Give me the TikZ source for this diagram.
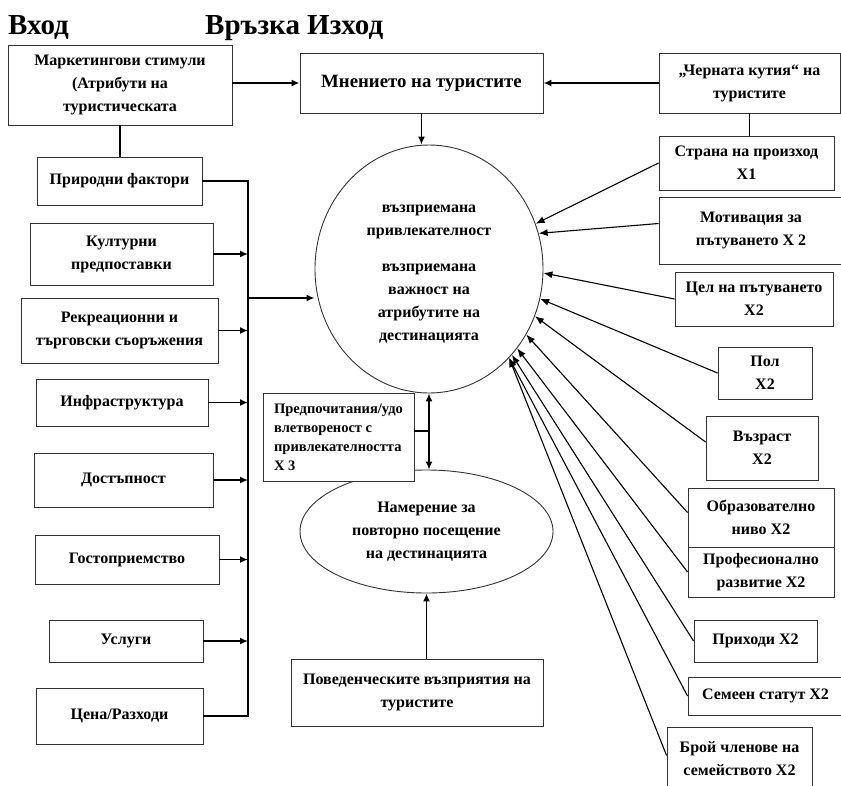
\documentclass[tikz,border=0pt]{standalone}
\usepackage{fontspec}
\setmainfont{Liberation Serif}
\usetikzlibrary{arrows.meta,shapes.geometric}
\newcommand\bodyfnt{\fontsize{16}{23}\selectfont\bfseries}
\newcommand\preffnt{\fontsize{14.5}{19}\selectfont\bfseries}
\begin{document}
\begin{tikzpicture}[x=1pt,y=-1pt,
  box/.style={draw=black!80, line width=0.9pt, fill=white, align=center, inner sep=0pt, font=\bodyfnt},
  oval/.style={ellipse, draw=black!80, line width=0.9pt, fill=white, align=center, inner sep=0pt, font=\bodyfnt},
  conn/.style={line width=1.8pt},
  arr/.style={conn, -{Latex[length=8pt,width=7pt]}},
  thinarr/.style={line width=1.1pt, -{Latex[length=9pt,width=7pt]}},
  dblarr/.style={line width=1.5pt, {Latex[length=8pt,width=7pt]}-{Latex[length=8pt,width=7pt]}},
  ttl/.style={anchor=base west, inner sep=0pt, font=\fontsize{29}{32}\selectfont\bfseries}]
\useasboundingbox (0,0) rectangle (841,785);
% titles
\node[ttl] (tin) at (8,34) {Вход};
\node[ttl] (tout) at (205,34) {Връзка Изход};
% central shapes
\node[oval, minimum width=228pt, minimum height=248pt] (circ) at (429,269) {};
\node[align=center, inner sep=0pt, font=\bodyfnt] (circtxt) at (429,274) {възприемана\\привлекателност\\[13pt]възприемана\\важност на\\атрибутите на\\дестинацията};
\node[oval, minimum width=253pt, minimum height=123pt] (ell2) at (426.5,531.5) {Намерение за\\повторно посещение\\на дестинацията};
\node[box, minimum width=151pt, minimum height=88pt, align=left, font=\preffnt] (pref) at (338.5,437) {Предпочитания/удо\\влетвореност с\\привлекателността\\X 3};
\node[box, minimum width=252pt, minimum height=67pt] (pov) at (417,692.5) {Поведенческите възприятия на\\туристите};
% top row
\node[box, minimum width=224pt, minimum height=80pt] (mark) at (120,85) {Маркетингови стимули\\(Атрибути на\\туристическата};
\node[box, minimum width=243pt, minimum height=60pt, font=\fontsize{18.8}{22}\selectfont\bfseries] (mnen) at (421.5,83) {Мнението на туристите};
\node[box, minimum width=181pt, minimum height=60pt] (black) at (749.5,83) {„Черната кутия“ на\\туристите};
% left column
\node[box, minimum width=165pt, minimum height=48pt] (prir) at (119.5,181) {Природни  фактори};
\node[box, minimum width=183pt, minimum height=62pt] (kult) at (121.5,254) {Културни\\предпоставки};
\node[box, minimum width=197pt, minimum height=65pt] (rekr) at (119.5,330.5) {Рекреационни и\\търговски  съоръжения};
\node[box, minimum width=172pt, minimum height=47pt] (infra) at (122,402.5) {Инфраструктура};
\node[box, minimum width=179pt, minimum height=54pt] (dost) at (123.5,480) {Достъпност};
\node[box, minimum width=184pt, minimum height=49pt] (gost) at (127,559.5) {Гостоприемство};
\node[box, minimum width=154pt, minimum height=42pt] (usl) at (126,641) {Услуги};
\node[box, minimum width=167pt, minimum height=56pt] (cena) at (119.5,716) {Цена/Разходи};
% right column
\node[box, minimum width=175pt, minimum height=54pt] (strana) at (746.5,163) {Страна  на произход\\X1};
\node[box, minimum width=184pt, minimum height=67pt] (motiv) at (751,230.5) {Мотивация за\\пътуването X 2};
\node[box, minimum width=158pt, minimum height=54pt] (cel) at (754,299) {Цел на пътуването\\X2};
\node[box, minimum width=94pt, minimum height=52pt] (pol) at (765,373) {Пол\\X2};
\node[box, minimum width=112pt, minimum height=64pt] (vaz) at (762,448) {Възраст\\X2};
\node[box, minimum width=146pt, minimum height=59pt] (obr) at (761,517.5) {Образователно\\ниво X2};
\node[box, minimum width=146pt, minimum height=50pt] (prof) at (761,572) {Професионално\\развитие X2};
\node[box, minimum width=123pt, minimum height=42pt] (prih) at (755.5,641) {Приходи  X2};
\node[box, minimum width=155pt, minimum height=38pt] (sem) at (765.5,696) {Семеен статут X2};
\node[box, minimum width=145pt, minimum height=63pt] (broi) at (739.5,758.5) {Брой членове на\\семейството X2};
% top connectors
\draw[arr] (mnen.west -| mark.east) -- (mnen.west);
\draw[arr] (black.west) -- (mnen.east);
\draw[line width=0.9pt] (black.south) -- (black.south |- strana.north);
\draw[arr] (mnen.south) -- (mnen.south |- circ.north);
\draw[conn] (mark.south) -- (mark.south |- prir.north);
% left bus
\coordinate (bustop) at (248,181);
\coordinate (busmid) at (248,298);
\coordinate (busbot) at (248,716);
\draw[conn] (prir.east) -- (bustop) -- (busbot) -- (cena.east);
\foreach \n in {kult,rekr,infra,dost,gost,usl}
  \draw[arr] (\n.east) -- (\n.east -| bustop);
\draw[arr] (busmid) -- (busmid -| circ.west);
% centre column
\draw[dblarr] (circ.south) -- (circ.south |- ell2.north);
\draw[line width=1.5pt] ([yshift=6pt]pref.east) -- ([yshift=6pt]pref.east -| circ.south);
\draw[arr] (ell2.south |- pov.north) -- (ell2.south);
% right connectors
\draw[thinarr] (strana.west) -- (circ.23.3);
\draw[thinarr] ([yshift=7pt]motiv.west) -- (circ.18.1);
\draw[thinarr] (cel.west) -- (circ.-2);
\draw[thinarr] (pol.west) -- (circ.-15);
\draw[thinarr] ([yshift=6pt]vaz.west) -- (circ.-24);
\draw[thinarr] ([yshift=5pt]obr.west) -- (circ.-34.9);
\draw[thinarr] (prof.west) -- (circ.-42.7);
\draw[thinarr] (prih.west) -- (circ.-46.3);
\draw[thinarr] (sem.west) -- (circ.-48.9);
\draw[thinarr] ([yshift=3pt]broi.west) -- (circ.-48.9);
\end{tikzpicture}
\end{document}
